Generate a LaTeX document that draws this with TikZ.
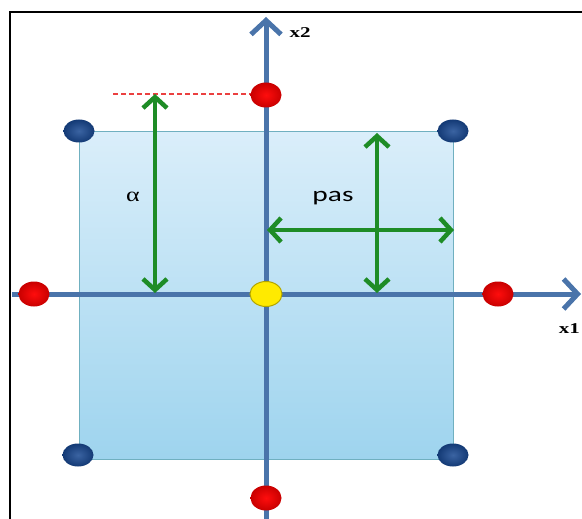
\documentclass[tikz,border=0pt]{standalone}
\usepackage{fontspec}
\usepackage{tikz}
\usepackage{xcolor}
\usetikzlibrary{arrows.meta,shapes.geometric}
\newfontfamily\pasfont{Carlito}
\newfontfamily\serifgr{Liberation Serif}
\definecolor{axisblue}{RGB}{74,116,170}
\definecolor{arrowgreen}{RGB}{30,140,38}
\definecolor{dotred}{RGB}{228,0,0}
\definecolor{dotblue}{RGB}{24,72,146}
\definecolor{dotyellow}{RGB}{255,234,0}
\definecolor{sqtop}{RGB}{218,238,250}
\definecolor{sqbot}{RGB}{158,212,238}
\definecolor{sqline}{RGB}{112,176,192}
\tikzset{
  axisline/.style={line width=5pt, draw=axisblue, -{Straight Barb[length=14pt,width=30pt]}},
  measure/.style={line width=4.5pt, draw=arrowgreen, {Straight Barb[length=11pt,width=24pt]}-{Straight Barb[length=11pt,width=24pt]}},
  dotbase/.style={ellipse, inner sep=0pt, minimum width=31pt, minimum height=25pt},
  reddot/.style={dotbase, shading=radial, inner color=red!95!white, outer color=dotred!88!black},
  bluedot/.style={dotbase, minimum height=23pt, shading=radial, inner color=dotblue!85!white, outer color=dotblue!80!black},
  origdot/.style={dotbase, minimum width=32pt, fill=dotyellow, draw=dotyellow!70!black, line width=1pt}
}
\begin{document}
\begin{tikzpicture}[x=1pt, y=-1pt]
\useasboundingbox (0,0) rectangle (582,519);
\draw[line width=1.6pt] (10,12) rectangle (620,560);
\coordinate (c1) at (79,132);
\coordinate (c3) at (453,459);
\shade[top color=sqtop, bottom color=sqbot, draw=sqline, line width=1pt] (c1) rectangle (c3);
\draw[dash pattern=on 5pt off 3pt, dotred!75!white, line width=1.4pt] (113,94) -- (252,94);
% axes
\coordinate (x1a) at (12,294);
\coordinate (x1b) at (581,294);
\coordinate (x2a) at (266,530);
\coordinate (x2b) at (266,17);
\draw[axisline] (x1a) -- (x1b);
\draw[axisline] (x2a) -- (x2b);
% alpha and pas
\coordinate (alt) at (155,94);
\coordinate (alb) at (155,293);
\coordinate (pl) at (267,230);
\coordinate (pr) at (454,230);
\coordinate (pt) at (377,133);
\coordinate (pb) at (377,293);
\draw[measure] (alt) -- (alb);
\draw[measure] (pl) -- (pr);
\draw[measure] (pt) -- (pb);
% points of the design
\node[bluedot] (nw) at (79,131) {};
\node[bluedot] (ne) at (453,131) {};
\node[bluedot] (sw) at (78,455) {};
\node[bluedot] (se) at (453,455) {};
\node[reddot] (n) at (266,95) {};
\node[reddot] (s) at (266,498) {};
\node[reddot] (w) at (34,294) {};
\node[reddot] (e) at (498,294) {};
\node[origdot] (o) at (266,294) {};
\node (alpha) at (133,197) {\serifgr\fontsize{20}{24}\selectfont\scalebox{1.3}[1]{α}};
\node (pas) at (333,198) {\pasfont\fontsize{21}{25}\selectfont\scalebox{1.4}[1]{pas}};
\node (lx2) at (300,33) {\serifgr\bfseries\fontsize{15}{18}\selectfont\scalebox{1.4}[1]{x2}};
\node[anchor=east, inner sep=1pt] (lx1) at (581,329) {\serifgr\bfseries\fontsize{15}{18}\selectfont\scalebox{1.4}[1]{x1}};
\end{tikzpicture}
\end{document}
